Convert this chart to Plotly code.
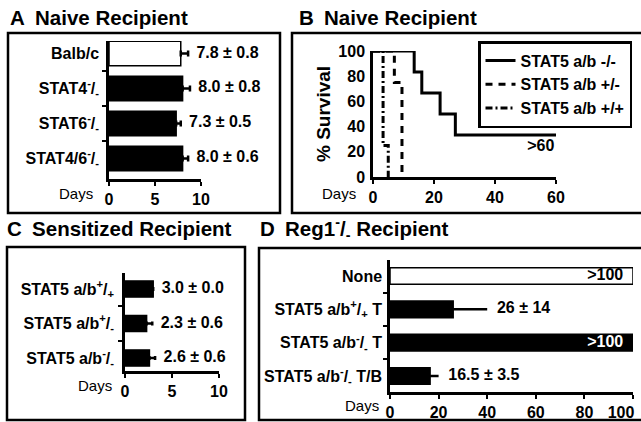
import plotly.graph_objects as go

# ---------------- data ----------------
a_cats = ["Balb/c", "STAT4<sup>-</sup>/<sub>-</sub>", "STAT6<sup>-</sup>/<sub>-</sub>",
          "STAT4/6<sup>-</sup>/<sub>-</sub>"]
a_days = [7.8, 8.0, 7.3, 8.0]
a_sd = [0.8, 0.8, 0.5, 0.6]
a_fill = ["white", "black", "black", "black"]
a_ticks = [0, 5, 10]

b_names = ["STAT5 a/b -/-", "STAT5 a/b +/-", "STAT5 a/b +/+"]
b_ko_t = [0, 13.5, 16, 22, 27, 60]
b_ko_s = [100, 83.3, 66.7, 50, 33.3, 33.3]
b_het_t = [0, 7, 9.5]
b_het_s = [100, 75, 0]
b_wt_t = [0, 3.3, 5]
b_wt_s = [100, 25, 0]
b_note = ">60"
b_note_t = 55
b_note_s = 24
b_ticks_x = [0, 20, 40, 60]
b_ticks_y = [0, 20, 40, 60, 80, 100]

c_cats = ["STAT5 a/b<sup>+</sup>/<sub>+</sub>", "STAT5 a/b<sup>+</sup>/<sub>-</sub>",
          "STAT5 a/b<sup>-</sup>/<sub>-</sub>"]
c_days = [3.0, 2.3, 2.6]
c_sd = [0.0, 0.6, 0.6]
c_ticks = [0, 5, 10]

d_cats = ["None", "STAT5 a/b<sup>+</sup>/<sub>+</sub> T", "STAT5 a/b<sup>-</sup>/<sub>-</sub> T",
          "STAT5 a/b<sup>-</sup>/<sub>-</sub> T/B"]
d_days = [100, 26, 100, 16.5]
d_sd = [0, 14, 0, 3.5]
d_labels = [">100", "26 ± 14", ">100", "16.5 ± 3.5"]
d_fill = ["white", "black", "black", "black"]
d_ticks = [0, 20, 40, 60, 80, 100]
d_ticktext = ["0", "20", "40", "60", "80", "100\u2002\u2002\u2002"]

# ---------------- helpers ----------------
W, H = 641, 422
F = "Liberation Sans, Arial, Helvetica, sans-serif"


def fx(p):
    return p / W


def fy(p):
    return 1 - p / H


def bold(size, color="black"):
    return dict(family=F, size=size, color=color, weight="bold")


fig = go.Figure()

# ---------------- Panel A ----------------
ya = list(range(len(a_cats)))
fig.add_trace(go.Bar(
    x=a_days, y=ya, orientation="h", width=0.7,
    marker=dict(color=a_fill, line=dict(color="black", width=1.5)),
    error_x=dict(type="data", symmetric=False, array=a_sd, arrayminus=[0] * len(a_sd),
                 color="black", thickness=2.5, width=3),
    xaxis="x", yaxis="y", showlegend=False, hoverinfo="skip"))
fig.add_trace(go.Scatter(
    x=[v + e + 0.9 for v, e in zip(a_days, a_sd)], y=ya, mode="text",
    text=[f"{v:.1f} ± {e:.1f}" for v, e in zip(a_days, a_sd)],
    textposition="middle right", textfont=bold(16), cliponaxis=False,
    xaxis="x", yaxis="y", showlegend=False, hoverinfo="skip"))

# ---------------- Panel B ----------------
fig.add_trace(go.Scatter(x=b_ko_t, y=b_ko_s, mode="lines", name=b_names[0],
                         line=dict(color="black", width=3, shape="hv"),
                         xaxis="x2", yaxis="y2", cliponaxis=False, legend="legend"))
fig.add_trace(go.Scatter(x=b_het_t, y=b_het_s, mode="lines", name=b_names[1],
                         line=dict(color="black", width=3, shape="hv", dash="7px,6px"),
                         xaxis="x2", yaxis="y2", cliponaxis=False, legend="legend"))
fig.add_trace(go.Scatter(x=b_wt_t, y=b_wt_s, mode="lines", name=b_names[2],
                         line=dict(color="black", width=3, shape="hv", dash="7px,3px,2px,3px"),
                         xaxis="x2", yaxis="y2", cliponaxis=False, legend="legend"))
fig.add_trace(go.Scatter(x=[b_note_t], y=[b_note_s], mode="text", text=[b_note],
                         textposition="middle center", textfont=bold(16),
                         xaxis="x2", yaxis="y2", showlegend=False, hoverinfo="skip",
                         cliponaxis=False))

# ---------------- Panel C ----------------
yc = list(range(len(c_cats)))
fig.add_trace(go.Bar(
    x=c_days, y=yc, orientation="h", width=0.47,
    marker=dict(color="black", line=dict(color="black", width=1.5)),
    error_x=dict(type="data", symmetric=False, array=c_sd, arrayminus=[0] * len(c_sd),
                 color="black", thickness=2.5, width=2),
    xaxis="x3", yaxis="y3", showlegend=False, hoverinfo="skip"))
fig.add_trace(go.Scatter(
    x=[v + e + 0.9 for v, e in zip(c_days, c_sd)], y=yc, mode="text",
    text=[f"{v:.1f} ± {e:.1f}" for v, e in zip(c_days, c_sd)],
    textposition="middle right", textfont=bold(16), cliponaxis=False,
    xaxis="x3", yaxis="y3", showlegend=False, hoverinfo="skip"))

# ---------------- Panel D ----------------
yd = list(range(len(d_cats)))
fig.add_trace(go.Bar(
    x=d_days, y=yd, orientation="h", width=0.5,
    marker=dict(color=d_fill, line=dict(color="black", width=1.5)),
    error_x=dict(type="data", symmetric=False, array=d_sd, arrayminus=[0] * len(d_sd),
                 color="black", thickness=2.5, width=0),
    xaxis="x4", yaxis="y4", showlegend=False, hoverinfo="skip"))
out_x, out_y, out_t = [], [], []
in_x, in_y, in_t, in_c = [], [], [], []
for i, (v, e, lab, col) in enumerate(zip(d_days, d_sd, d_labels, d_fill)):
    if lab.startswith(">"):
        in_x.append(v - 4)
        in_y.append(i)
        in_t.append(lab)
        in_c.append("black" if col == "white" else "white")
    else:
        out_x.append(v + e + 4)
        out_y.append(i)
        out_t.append(lab)
fig.add_trace(go.Scatter(x=out_x, y=out_y, mode="text", text=out_t,
                         textposition="middle right", textfont=bold(16), cliponaxis=False,
                         xaxis="x4", yaxis="y4", showlegend=False, hoverinfo="skip"))
fig.add_trace(go.Scatter(x=in_x, y=in_y, mode="text", text=in_t,
                         textposition="middle left",
                         textfont=dict(family=F, size=16, color=in_c, weight="bold"),
                         cliponaxis=False,
                         xaxis="x4", yaxis="y4", showlegend=False, hoverinfo="skip"))

# ---------------- axes ----------------
common_x = dict(showgrid=False, zeroline=False, showline=True, linecolor="black", linewidth=2.5,
                ticks="outside", ticklen=4, tickwidth=2, tickcolor="black",
                tickfont=bold(16), fixedrange=True, automargin=False,
                ticklabeloverflow="allow")
common_y = dict(showgrid=False, zeroline=False, showline=True, linecolor="black", linewidth=2.5,
                tickfont=bold(16), fixedrange=True, automargin=False,
                ticklabeloverflow="allow")

fig.update_layout(
    width=W, height=H, margin=dict(l=0, r=0, t=0, b=0, pad=0, autoexpand=False),
    paper_bgcolor="white", plot_bgcolor="rgba(0,0,0,0)",
    font=dict(family=F, color="black"),
    xaxis=dict(common_x, domain=[fx(109), fx(201)], range=[0, 10], tickvals=a_ticks,
               anchor="y"),
    yaxis=dict(common_y, domain=[fy(179), fy(41)], range=[3.586, -0.357], tickvals=ya,
               ticktext=a_cats, ticks="", ticklabelstandoff=4, anchor="x",
               minor=dict(tickvals=[0.5, 1.5, 2.5], ticks="outside", ticklen=4,
                          tickwidth=2, tickcolor="black")),
    xaxis2=dict(common_x, domain=[fx(373), fx(556)], range=[0, 60], tickvals=b_ticks_x,
                anchor="y2"),
    yaxis2=dict(common_y, domain=[fy(177), fy(51)], range=[0, 100], tickvals=b_ticks_y,
                ticks="", ticklabelstandoff=2, anchor="x2"),
    xaxis3=dict(common_x, domain=[fx(125), fx(219)], range=[0, 10], tickvals=c_ticks,
                anchor="y3"),
    yaxis3=dict(common_y, domain=[fy(371), fy(273)], range=[2.377, -0.464], tickvals=yc,
                ticktext=c_cats, ticks="", ticklabelstandoff=5, anchor="x3",
                minor=dict(tickvals=[0.5, 1.5], ticks="outside", ticklen=4,
                           tickwidth=2, tickcolor="black")),
    xaxis4=dict(common_x, domain=[fx(390), fx(633)], range=[0, 100], tickvals=d_ticks,
                ticktext=d_ticktext, anchor="y4"),
    yaxis4=dict(common_y, domain=[fy(392), fy(260)], range=[3.48, -0.48], tickvals=yd,
                ticktext=d_cats, ticks="", ticklabelstandoff=2, anchor="x4",
                minor=dict(tickvals=[0.5, 1.5, 2.5], ticks="outside", ticklen=4,
                           tickwidth=2, tickcolor="black")),
    legend=dict(x=fx(478), y=fy(41), xanchor="left", yanchor="top",
                bordercolor="black", borderwidth=2.5, bgcolor="white",
                font=bold(16), tracegroupgap=0, itemwidth=30),
    showlegend=True,
)

# ---------------- panel frames ----------------
boxes = [(8, 33, 280, 213), (292, 33, 646, 213), (7, 247, 245, 420), (259, 248, 646, 420)]
for x0, y0, x1, y1 in boxes:
    fig.add_shape(type="rect", xref="paper", yref="paper",
                  x0=fx(x0), y0=fy(y1), x1=fx(x1), y1=fy(y0),
                  line=dict(color="black", width=2.5), layer="below")

# ---------------- titles & labels ----------------
SP = "\u2002"
titles = [("A" + SP + "Naive Recipient", 8, 17), ("B" + SP + "Naive Recipient", 297, 17),
          ("C" + SP + "Sensitized Recipient", 5, 228),
          ("D" + SP + "Reg1<sup>-</sup>/<sub>-</sub> Recipient", 258, 228)]
for t, x, y in titles:
    fig.add_annotation(text=t, xref="paper", yref="paper", x=fx(x), y=fy(y),
                       xanchor="left", yanchor="middle", showarrow=False, font=bold(20.5))

for x, y in [(76, 193), (339, 193), (95, 385), (362, 405)]:
    fig.add_annotation(text="Days", xref="paper", yref="paper", x=fx(x), y=fy(y),
                       xanchor="center", yanchor="middle", showarrow=False,
                       font=dict(family=F, size=15, color="black"))

fig.add_annotation(text="% Survival", xref="paper", yref="paper", x=fx(323), y=fy(114),
                   textangle=-90, xanchor="center", yanchor="middle", showarrow=False,
                   font=bold(19))

fig.write_html("out.html", config={"displayModeBar": False},
               post_script="document.body.style.margin='0';document.body.style.overflow='hidden';")
